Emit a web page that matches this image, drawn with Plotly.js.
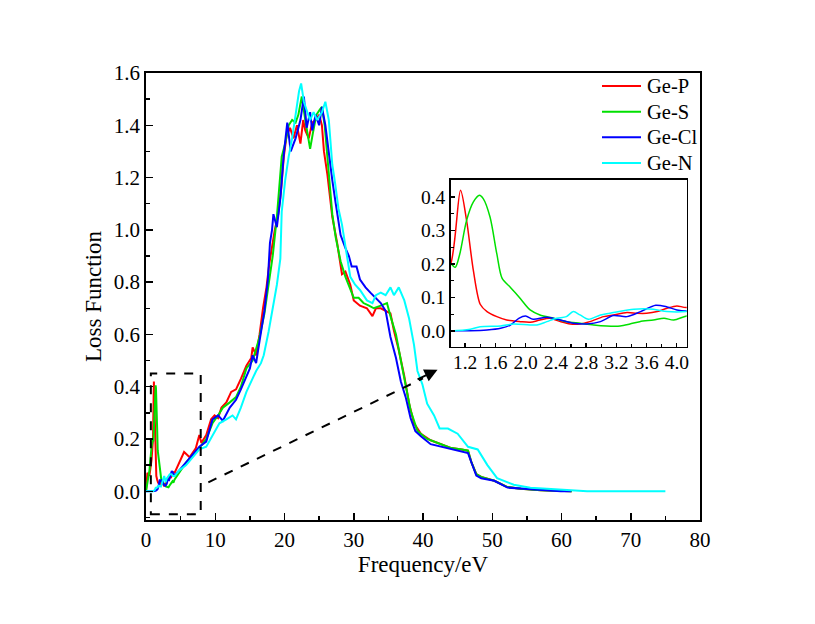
<!DOCTYPE html>
<html>
<head>
<meta charset="utf-8">
<script src="https://cdn.plot.ly/plotly-3.0.1.min.js"></script>
<style>html,body{margin:0;padding:0;background:#fff;}#chart{width:815px;height:624px;}</style>
</head>
<body>
<div id="chart"></div>
<script>
// ---- data ----
var seriesNames = ["Ge-P", "Ge-S", "Ge-Cl", "Ge-N"];
var seriesColors = ["#ff0000", "#00e000", "#0000ff", "#00ffff"];

var gePX = [0, 0.2, 0.5, 0.8, 1.01, 1.14, 1.22, 1.31, 1.40, 1.49, 1.62, 1.75, 1.93, 2.06, 2.19, 2.32, 2.46, 2.59, 2.72, 2.85, 3.03, 3.16, 3.34, 3.47, 3.6, 3.74, 3.87, 4.0, 4.13, 4.8, 5.5, 6.3, 7.2, 7.7, 8.0, 8.7, 9.4, 9.9, 10.4, 10.9, 11.6, 12.3, 13.0, 13.7, 14.5, 15.2, 15.4, 15.9, 16.4, 16.9, 17.4, 17.8, 18.1, 18.6, 19.1, 19.5, 19.9, 20.3, 20.8, 21.3, 21.8, 22.3, 22.7, 23.0, 23.5, 24.0, 24.5, 25.0, 25.4, 25.7, 26.2, 26.9, 27.6, 28.3, 28.8, 29.5, 30.0, 30.9, 31.9, 32.7, 33.2, 33.9, 34.6, 35.3, 35.8, 36.5, 37.3, 38.0, 38.7, 39.7, 41.1, 42.6, 44.1, 45.6, 46.5, 47.0, 47.7, 48.4, 50.3, 52.2, 54.1, 57.0, 59.9, 61.5];
var gePY = [0, 0.07, 0.06, 0.12, 0.2, 0.42, 0.33, 0.18, 0.08, 0.058, 0.043, 0.033, 0.028, 0.026, 0.033, 0.038, 0.028, 0.021, 0.021, 0.028, 0.043, 0.048, 0.055, 0.053, 0.053, 0.058, 0.068, 0.075, 0.07, 0.11, 0.15, 0.13, 0.165, 0.215, 0.185, 0.215, 0.275, 0.29, 0.28, 0.32, 0.34, 0.38, 0.39, 0.43, 0.48, 0.51, 0.55, 0.52, 0.6, 0.70, 0.78, 0.87, 0.92, 1.0, 1.06, 1.15, 1.28, 1.36, 1.39, 1.35, 1.40, 1.33, 1.42, 1.38, 1.35, 1.41, 1.42, 1.44, 1.40, 1.30, 1.21, 1.05, 0.95, 0.83, 0.84, 0.79, 0.73, 0.71, 0.70, 0.67, 0.70, 0.70, 0.69, 0.68, 0.615, 0.54, 0.44, 0.335, 0.26, 0.22, 0.195, 0.18, 0.165, 0.16, 0.155, 0.11, 0.065, 0.055, 0.04, 0.016, 0.01, 0.004, 0.001, 0.0];

var geSX = [0, 0.5, 0.8, 1.01, 1.07, 1.13, 1.22, 1.31, 1.39, 1.44, 1.53, 1.62, 1.69, 1.8, 1.93, 2.06, 2.19, 2.37, 2.54, 2.72, 2.9, 3.07, 3.25, 3.38, 3.51, 3.69, 3.83, 3.96, 4.13, 4.8, 5.8, 6.8, 7.7, 8.7, 9.6, 10.4, 11.1, 12.1, 13.0, 13.7, 14.5, 15.4, 16.4, 17.1, 17.8, 18.3, 18.9, 19.6, 20.1, 20.6, 21.1, 21.6, 22.0, 22.5, 23.0, 23.4, 23.7, 24.1, 24.6, 25.1, 25.4, 25.8, 26.2, 26.6, 26.9, 27.4, 28.1, 28.8, 29.5, 30.0, 30.7, 31.4, 32.2, 32.9, 33.9, 34.8, 35.3, 36.1, 36.8, 37.5, 38.2, 39.2, 40.6, 42.6, 44.1, 45.6, 46.5, 47.0, 47.7, 48.4, 50.3, 52.2, 54.1, 57.0, 59.9, 61.5];
var geSY = [0, 0.08, 0.17, 0.2, 0.19, 0.23, 0.33, 0.385, 0.405, 0.395, 0.34, 0.23, 0.157, 0.13, 0.097, 0.063, 0.048, 0.038, 0.028, 0.023, 0.018, 0.015, 0.015, 0.021, 0.028, 0.033, 0.038, 0.033, 0.045, 0.07, 0.11, 0.14, 0.165, 0.2, 0.26, 0.29, 0.32, 0.34, 0.36, 0.4, 0.47, 0.5, 0.59, 0.68, 0.82, 0.9, 1.05, 1.28, 1.33, 1.40, 1.42, 1.41, 1.44, 1.51, 1.42, 1.35, 1.31, 1.37, 1.44, 1.46, 1.47, 1.40, 1.28, 1.17, 1.06, 0.97, 0.88, 0.82, 0.77, 0.74, 0.74, 0.72, 0.71, 0.70, 0.71, 0.72, 0.67, 0.6, 0.5, 0.41, 0.31, 0.23, 0.2, 0.18, 0.165, 0.16, 0.155, 0.11, 0.065, 0.055, 0.04, 0.016, 0.01, 0.004, 0.001, 0.0];

var geClX = [0, 0.5, 1.01, 1.27, 1.49, 1.67, 1.8, 1.91, 2.0, 2.1, 2.28, 2.46, 2.63, 2.81, 2.99, 3.16, 3.34, 3.52, 3.72, 3.87, 4.0, 4.13, 4.8, 5.8, 6.8, 7.7, 8.7, 9.6, 10.4, 11.1, 12.1, 13.0, 13.7, 14.5, 15.0, 15.4, 15.9, 16.4, 17.1, 17.6, 17.9, 18.2, 18.4, 18.9, 19.4, 19.9, 20.4, 20.9, 21.6, 22.3, 22.8, 23.2, 23.7, 24.0, 24.5, 25.0, 25.4, 25.9, 26.4, 26.9, 27.4, 28.1, 28.8, 29.3, 29.7, 30.4, 30.9, 31.7, 32.4, 33.2, 33.9, 34.6, 35.3, 36.1, 36.8, 37.5, 38.2, 38.9, 39.7, 41.1, 42.6, 44.1, 45.6, 46.5, 47.0, 47.7, 48.4, 50.3, 52.2, 54.1, 57.0, 59.9, 61.4];
var geClY = [0, 0.0, 0.001, 0.001, 0.003, 0.008, 0.018, 0.038, 0.045, 0.035, 0.041, 0.033, 0.023, 0.021, 0.028, 0.046, 0.043, 0.058, 0.077, 0.072, 0.063, 0.06, 0.08, 0.11, 0.14, 0.17, 0.19, 0.275, 0.29, 0.27, 0.32, 0.35, 0.39, 0.44, 0.47, 0.52, 0.49, 0.575, 0.69, 0.81, 0.95, 1.0, 1.06, 1.01, 1.12, 1.29, 1.41, 1.3, 1.35, 1.42, 1.51, 1.39, 1.45, 1.38, 1.44, 1.4, 1.47, 1.40, 1.29, 1.19, 1.1, 0.98, 0.93, 0.9, 0.86, 0.86, 0.81, 0.78, 0.76, 0.74, 0.72, 0.69, 0.59, 0.51, 0.42, 0.36, 0.28, 0.23, 0.21, 0.18, 0.17, 0.16, 0.15, 0.146, 0.11, 0.06, 0.05, 0.04, 0.014, 0.01, 0.004, 0.0, 0.0];

var geNX = [0, 0.5, 1.01, 1.27, 1.4, 1.67, 1.84, 2.15, 2.28, 2.41, 2.54, 2.63, 2.72, 2.83, 2.99, 3.16, 3.43, 3.69, 3.87, 4.13, 4.8, 5.8, 6.8, 7.7, 8.7, 9.6, 10.6, 11.6, 12.5, 13.0, 13.7, 14.5, 15.0, 15.9, 16.6, 17.0, 17.7, 18.4, 18.9, 19.4, 19.6, 20.1, 20.6, 21.1, 21.6, 22.1, 22.4, 22.8, 23.3, 23.7, 24.2, 24.7, 25.4, 25.9, 26.4, 26.9, 27.3, 27.8, 28.3, 28.8, 29.5, 30.2, 30.9, 31.9, 32.7, 33.2, 33.9, 34.6, 35.3, 35.8, 36.5, 37.3, 38.0, 38.7, 39.2, 39.9, 40.6, 41.6, 42.4, 43.6, 45.0, 46.5, 47.9, 49.3, 50.7, 53.1, 55.5, 57.9, 60.8, 63.7, 75.0];
var geNY = [0, 0.0, 0.0, 0.005, 0.013, 0.015, 0.021, 0.018, 0.028, 0.038, 0.043, 0.058, 0.048, 0.035, 0.048, 0.055, 0.065, 0.065, 0.058, 0.058, 0.08, 0.1, 0.13, 0.16, 0.17, 0.215, 0.26, 0.275, 0.29, 0.275, 0.32, 0.38, 0.41, 0.46, 0.49, 0.52, 0.61, 0.72, 0.79, 0.89, 1.07, 1.19, 1.28, 1.35, 1.45, 1.53, 1.56, 1.49, 1.45, 1.42, 1.45, 1.42, 1.45, 1.49, 1.42, 1.25, 1.18, 1.08, 1.02, 0.93, 0.82, 0.79, 0.77, 0.73, 0.72, 0.75, 0.76, 0.75, 0.78, 0.75, 0.78, 0.73, 0.66, 0.56, 0.46, 0.41, 0.335, 0.29, 0.24, 0.24, 0.22, 0.17, 0.16, 0.1, 0.05, 0.025, 0.013, 0.01, 0.005, 0.0, 0.0];

var mainXTicks = [0, 10, 20, 30, 40, 50, 60, 70, 80];
var mainYTicks = [0.0, 0.2, 0.4, 0.6, 0.8, 1.0, 1.2, 1.4, 1.6];
var insetXTicks = [1.2, 1.6, 2.0, 2.4, 2.8, 3.2, 3.6, 4.0];
var insetYTicks = [0.0, 0.1, 0.2, 0.3, 0.4];

// ---- build traces ----
var xs = [gePX, geSX, geClX, geNX];
var ys = [gePY, geSY, geClY, geNY];
var traces = [];
for (var i = 0; i < 4; i++) {
  traces.push({x: xs[i], y: ys[i], type: 'scatter', mode: 'lines', name: seriesNames[i], showlegend: false,
    line: {color: seriesColors[i], width: 2}, xaxis: 'x', yaxis: 'y'});
}
for (var j = 0; j < 4; j++) {
  traces.push({x: xs[j], y: ys[j], type: 'scatter', mode: 'lines', name: seriesNames[j], showlegend: false,
    line: {color: seriesColors[j], width: 1.5, shape: 'spline', smoothing: 0.8}, xaxis: 'x2', yaxis: 'y2'});
}

var FAM = '"Liberation Serif", "Times New Roman", serif';
function f(size) { return {family: FAM, color: '#000', size: size}; }

// legend (drawn as paper-referenced line samples + labels)
var legShapes = [], legAnn = [];
var legTop = 0.971, legStep = 0.0575;
for (var k = 0; k < 4; k++) {
  var yy = legTop - k * legStep;
  legShapes.push({type: 'line', xref: 'paper', yref: 'paper', x0: 0.8231, x1: 0.8935, y0: yy, y1: yy,
    line: {color: seriesColors[k], width: 2}});
  legAnn.push({xref: 'paper', yref: 'paper', x: 0.900, y: yy, xanchor: 'left', yanchor: 'middle',
    text: seriesNames[k], showarrow: false, font: f(20.5)});
}

var layout = {
  width: 815, height: 624,
  margin: {l: 146, r: 115, t: 73, b: 104, pad: 0},
  paper_bgcolor: '#fff', plot_bgcolor: 'rgba(0,0,0,0)',
  font: f(21),
  showlegend: false,
  xaxis: {domain: [0, 1], range: [0, 80], tickvals: mainXTicks, ticktext: mainXTicks.map(String),
    ticks: 'inside', ticklen: 7, tickwidth: 1.5, tickcolor: '#000',
    minor: {dtick: 5, tick0: 0, ticks: 'inside', ticklen: 4, tickwidth: 1.5, tickcolor: '#000'},
    showline: true, linewidth: 1.8, linecolor: '#000', mirror: true, showgrid: false, zeroline: false,
    tickfont: f(21), title: {text: 'Frequency/eV', font: f(23), standoff: 2}},
  yaxis: {domain: [0, 1], range: [-0.11, 1.6], tickvals: mainYTicks, ticktext: mainYTicks.map(function(v){return v.toFixed(1);}),
    ticks: 'inside', ticklen: 7, tickwidth: 1.5, tickcolor: '#000',
    minor: {dtick: 0.1, tick0: 0, ticks: 'inside', ticklen: 4, tickwidth: 1.5, tickcolor: '#000'},
    showline: true, linewidth: 1.8, linecolor: '#000', mirror: true, showgrid: false, zeroline: false,
    tickfont: f(21), title: {text: 'Loss Function', font: f(23), standoff: 6}},
  xaxis2: {domain: [0.55, 0.976], anchor: 'y2', range: [1.01, 4.13], tickvals: insetXTicks,
    ticktext: insetXTicks.map(function(v){return v.toFixed(1);}),
    ticks: 'inside', ticklen: 4, tickwidth: 1.2, tickcolor: '#000',
    minor: {dtick: 0.2, tick0: 1.2, ticks: 'inside', ticklen: 3, tickwidth: 1.2, tickcolor: '#000'},
    ticklabelstandoff: -3,
    showline: true, linewidth: 1.5, linecolor: '#000', mirror: true, showgrid: false, zeroline: false,
    tickfont: f(19.5)},
  yaxis2: {domain: [0.3875, 0.7617], anchor: 'x2', range: [-0.047, 0.452], tickvals: insetYTicks,
    ticktext: insetYTicks.map(function(v){return v.toFixed(1);}),
    ticks: 'inside', ticklen: 4, tickwidth: 1.2, tickcolor: '#000',
    minor: {dtick: 0.05, tick0: 0, ticks: 'inside', ticklen: 3, tickwidth: 1.2, tickcolor: '#000'},
    showline: true, linewidth: 1.5, linecolor: '#000', mirror: true, showgrid: false, zeroline: false,
    tickfont: f(19.5)},
  shapes: [
    {type: 'rect', xref: 'x', yref: 'y', x0: 0.7, x1: 7.9, y0: -0.088, y1: 0.45,
      line: {color: '#000', width: 2, dash: 'dash'}},
    {type: 'line', xref: 'x', yref: 'y', x0: 9.0, y0: 0.034, x1: 40.0, y1: 0.432,
      line: {color: '#000', width: 2, dash: 'dash'}}
  ].concat(legShapes),
  annotations: [
    {xref: 'x', yref: 'y', axref: 'x', ayref: 'y', x: 42.1, y: 0.465, ax: 39.0, ay: 0.425,
      text: '', showarrow: true, arrowhead: 2, arrowsize: 1.3, arrowwidth: 2, arrowcolor: '#000'}
  ].concat(legAnn)
};

Plotly.newPlot('chart', traces, layout, {displayModeBar: false, staticPlot: true});
</script>
</body>
</html>
